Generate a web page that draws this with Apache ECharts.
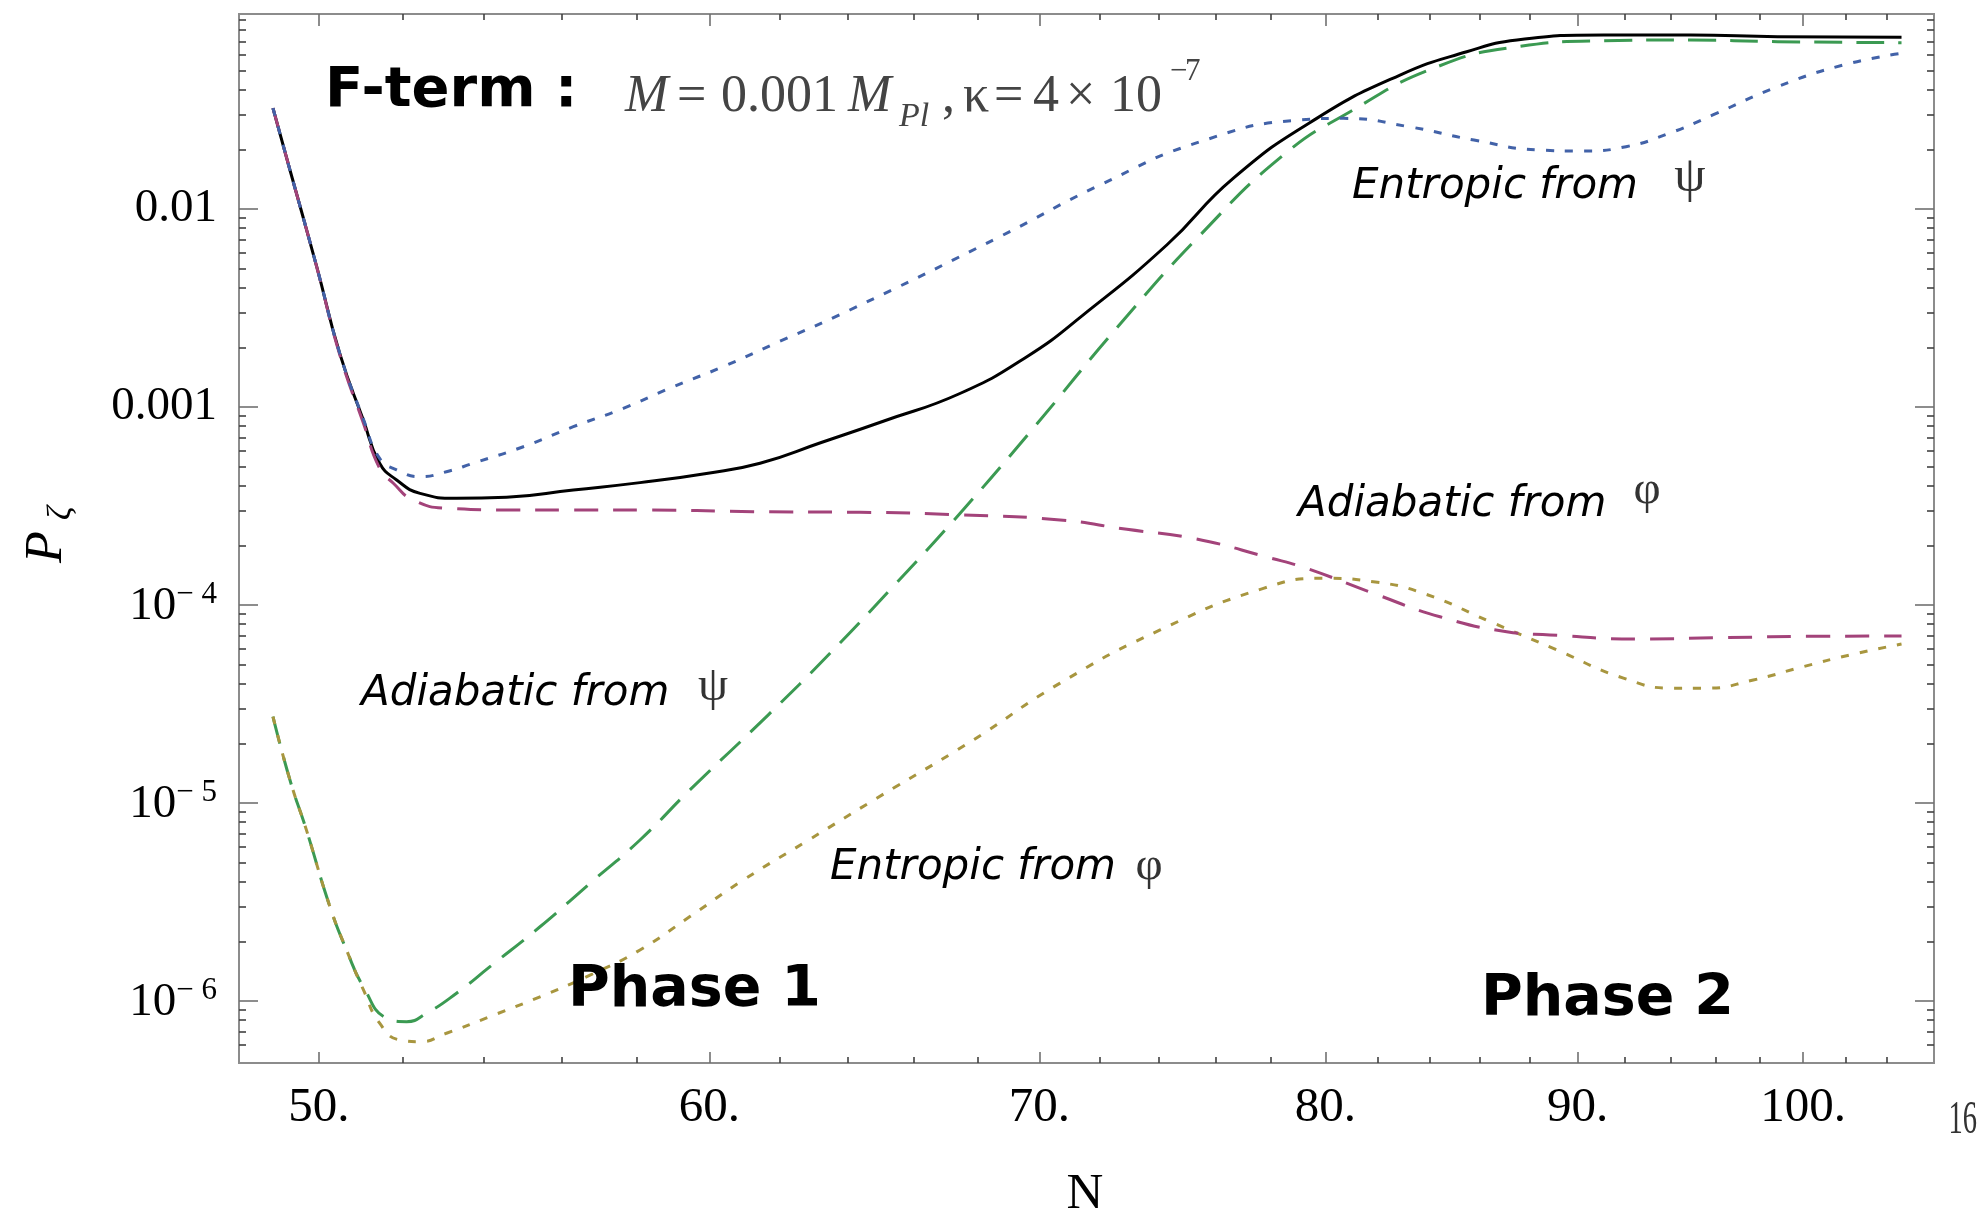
<!DOCTYPE html>
<html><head><meta charset="utf-8">
<script src="https://cdn.jsdelivr.net/npm/echarts@6/dist/echarts.min.js"></script>
<style>html,body{margin:0;padding:0;background:#fff}#c{width:1981px;height:1214px}</style>
</head><body><div id="c"></div>
<script>
// ---- data ----
const totalN = [48.94,49.33,49.95,50.49,51.05,51.44,51.85,52.42,53.32,54.58,56.31,58.09,59.92,61.44,63.2,65.1,67.45,69.58,71.45,74.29,76.63,79.68,82.84,85.46,87.49,91.11,94.88,98.81,104.7];
const totalP = [0.0323,0.01574,0.00512,0.001866,8.59e-4,5.20e-4,4.28e-4,3.66e-4,3.46e-4,3.50e-4,3.81e-4,4.15e-4,4.62e-4,5.2e-4,6.6e-4,8.5e-4,1.17e-3,1.79e-3,2.92e-3,6.58e-3,0.01429,0.0287,0.0475,0.0623,0.0714,0.0757,0.0757,0.0742,0.0737];

const entPsiN = [48.94,49.33,49.95,50.49,51.05,51.44,51.85,52.42,53.07,53.74,55.01,56.31,57.64,59.00,60.39,61.82,64.07,68.72,72.01,75.46,79.06,80.68,83.18,85.75,88.40,90.21,92.06,93.94,95.87,98.81,101.9,104.7];
const entPsiP = [0.0323,0.01574,0.00512,0.00187,8.7e-4,5.5e-4,4.81e-4,4.45e-4,4.71e-4,5.20e-4,6.30e-4,7.95e-4,9.85e-4,1.266e-3,1.598e-3,2.075e-3,3.09e-3,7.25e-3,0.01322,0.02188,0.02815,0.0287,0.02604,0.02231,0.01986,0.01963,0.02065,0.02412,0.02985,0.04147,0.0534,0.0611];

const adPhiN = [48.94,49.33,49.95,50.49,51.05,51.44,51.77,52.25,53.07,54.58,56.31,58.09,61.25,64.37,67.45,70.68,72.92,75.22,77.96,79.31,81.81,84.40,87.07,88.85,92.52,96.34,100.64,104.7];
const adPhiP = [0.0323,0.01574,0.0051,0.00184,8.3e-4,4.9e-4,4.12e-4,3.39e-4,3.08e-4,3.02e-4,3.02e-4,3.02e-4,2.96e-4,2.94e-4,2.85e-4,2.69e-4,2.41e-4,2.17e-4,1.73e-4,1.53e-4,1.146e-4,8.72e-5,7.33e-5,7.06e-5,6.73e-5,6.84e-5,6.95e-5,6.97e-5];

const adPsiN = [48.94,49.33,49.71,50.26,50.65,51.05,51.61,52.09,52.58,53.32,54.16,55.44,56.75,58.09,59.46,61.67,63.48,65.28,67.45,69.80,72.57,75.46,78.45,80.93,84.14,87.49,91.11,94.88,98.81,104.7];
const adPsiP = [2.73e-5,1.306e-5,7.31e-6,2.99e-6,1.81e-6,1.18e-6,8.18e-7,7.86e-7,8.67e-7,1.094e-6,1.49e-6,2.37e-6,3.93e-6,6.50e-6,1.164e-5,2.78e-5,5.70e-5,1.19e-4,2.90e-4,7.81e-4,2.50e-3,7.39e-3,0.01874,0.031,0.0514,0.066,0.0708,0.0714,0.070,0.0692];

const entPhiN = [48.94,49.33,49.71,50.26,50.65,51.05,51.44,51.93,52.42,53.07,54.16,55.44,56.75,58.09,59.46,60.96,62.85,64.88,67.87,70.68,74.06,77.72,79.92,81.81,83.74,86.40,89.13,91.95,94.12,95.60,97.70,100.0,102.2,104.7];
const entPhiP = [2.73e-5,1.306e-5,7.31e-6,2.99e-6,1.81e-6,1.14e-6,7.72e-7,6.35e-7,6.23e-7,6.87e-7,8.34e-7,1.05e-6,1.35e-6,1.81e-6,2.67e-6,4.08e-6,6.5e-6,1.057e-5,2.08e-5,4.03e-5,7.48e-5,1.213e-4,1.364e-4,1.311e-4,1.146e-4,8.24e-5,5.93e-5,4.27e-5,3.80e-5,3.80e-5,4.18e-5,4.88e-5,5.59e-5,6.35e-5];

// ---- axes ----
const X_MIN = 48.17, X_MAX = 106.3;
const Y_MIN = 4.86e-7, Y_MAX = 0.0966;
const xTickValues = [50,60,70,80,90,100];
const xTickLabels = ['50.','60.','70.','80.','90.','100.'];
const xMinorValues = [52,54,56,58,62,64,66,68,72,74,76,78,82,84,86,88,92,94,96,98,102,104];
const yTickValues = [1e-6,1e-5,1e-4,1e-3,1e-2];
const yTickLabels = ['{b|10}{s|− 6}','{b|10}{s|− 5}','{b|10}{s|− 4}','{b|0.001}','{b|0.01}'];
const yMinorValues = [
  6e-7,7e-7,8e-7,9e-7,
  2e-6,3e-6,4e-6,5e-6,6e-6,7e-6,8e-6,9e-6,
  2e-5,3e-5,4e-5,5e-5,6e-5,7e-5,8e-5,9e-5,
  2e-4,3e-4,4e-4,5e-4,6e-4,7e-4,8e-4,9e-4,
  2e-3,3e-3,4e-3,5e-3,6e-3,7e-3,8e-3,9e-3,
  2e-2,3e-2,4e-2,5e-2,6e-2,7e-2,8e-2,9e-2];

function pick(values, labels, v) {
  for (let i = 0; i < values.length; i++) {
    if (Math.abs(Math.log(values[i]) - Math.log(v)) < 1e-3) return labels[i];
  }
  return '';
}
const MAJ = {color:'#707070', width:1.6};
const MIN = {color:'#404040', width:1.6};

function xAx(pos, vals, len, style, withLabels) {
  return {
    type:'log', logBase:10, position:pos, min:X_MIN, max:X_MAX,
    axisLine:{show:false}, splitLine:{show:false}, minorTick:{show:false}, minorSplitLine:{show:false},
    axisTick:{show:true, inside:true, length:len, customValues:vals, lineStyle:style},
    axisLabel: withLabels ? {
      show:true, customValues:xTickValues, margin:21,
      formatter:(v)=>pick(xTickValues, xTickLabels, v),
      fontFamily:'Liberation Serif', fontSize:49, color:'#000'
    } : {show:false}
  };
}
function yAx(pos, vals, len, style, withLabels) {
  return {
    type:'log', logBase:10, position:pos, min:Y_MIN, max:Y_MAX,
    axisLine:{show:false}, splitLine:{show:false}, minorTick:{show:false}, minorSplitLine:{show:false},
    axisTick:{show:true, inside:true, length:len, customValues:vals, lineStyle:style},
    axisLabel: withLabels ? {
      show:true, customValues:yTickValues, margin:22,
      formatter:(v)=>pick(yTickValues, yTickLabels, v),
      fontFamily:'Liberation Serif', color:'#000',
      rich:{
        b:{fontFamily:'Liberation Serif', fontSize:47, color:'#000', verticalAlign:'bottom'},
        s:{fontFamily:'Liberation Serif', fontSize:31, color:'#000', verticalAlign:'bottom', padding:[0,0,20,0]}
      }
    } : {show:false}
  };
}

function zip(a, b) { return a.map((n, i) => [n, b[i]]); }
function line(name, N, P, color, width, dash, z) {
  return {
    type:'line', name, xAxisIndex:0, yAxisIndex:0, data:zip(N, P),
    smooth:0.5, showSymbol:false, symbol:'none', z,
    lineStyle:{color, width, type:dash, cap:'butt', join:'round'}, emphasis:{disabled:true}
  };
}

// ---- text helpers ----
function T(text, x, y, font, fill, align, rot, sx) {
  const el = {type:'text', x, y, z:100, silent:true,
    style:{text, font, fill: fill || '#000', textAlign: align || 'left', textVerticalAlign:'middle', verticalAlign:'middle'}};
  if (rot) el.rotation = rot;
  if (sx) el.scaleX = sx;
  return el;
}
const SERIF = '"Liberation Serif"';
const SANS = '"DejaVu Sans"';
const MATHC = '#444';
const graphics = [
  T('F-term :', 325, 91, 'bold 56px ' + SANS, '#000'),
  // M = 0.001 M_Pl , κ = 4×10^-7
  T('M', 625, 97, 'italic 52px ' + SERIF, MATHC),
  T('=', 677, 97, '52px ' + SERIF, MATHC),
  T('0.001', 721, 97, '52px ' + SERIF, MATHC),
  T('M', 848, 97, 'italic 52px ' + SERIF, MATHC),
  T('Pl', 899, 117, 'italic 34px ' + SERIF, MATHC),
  T(',', 942, 97, '52px ' + SERIF, MATHC),
  T('κ', 963, 97, '52px ' + SERIF, MATHC),
  T('=', 994, 97, '52px ' + SERIF, MATHC),
  T('4', 1033, 97, '52px ' + SERIF, MATHC),
  T('×', 1066, 97, '52px ' + SERIF, MATHC),
  T('10', 1110, 97, '52px ' + SERIF, MATHC),
  T('−', 1170, 72, '31px ' + SERIF, MATHC),
  T('7', 1185, 72, '31px ' + SERIF, MATHC),
  // curve labels
  T('Entropic from', 1352, 187, 'italic 42px ' + SANS, '#000'),
  T('ψ', 1690, 178, '50px ' + SERIF, '#333', 'center'),
  T('Adiabatic from', 1298, 505, 'italic 42px ' + SANS, '#000'),
  T('φ', 1647, 491, '47px ' + SERIF, '#333', 'center'),
  T('Adiabatic from', 361, 694, 'italic 42px ' + SANS, '#000'),
  T('ψ', 713, 687, '48px ' + SERIF, '#333', 'center'),
  T('Entropic from', 830, 868, 'italic 42px ' + SANS, '#000'),
  T('φ', 1149, 867, '47px ' + SERIF, '#333', 'center'),
  T('Phase 1', 568, 991, 'bold 57px ' + SANS, '#000'),
  T('Phase 2', 1481, 1000, 'bold 57px ' + SANS, '#000'),
  // axis names
  T('N', 1085, 1195, '51px ' + SERIF, '#000', 'center'),
  T('P', 47, 547, 'italic 52px ' + SERIF, '#000', 'center', Math.PI / 2),
  T('ζ', 61, 513, 'italic 34px ' + SERIF, '#000', 'center', Math.PI / 2),
  T('16', 1977, 1121, '46px ' + SERIF, '#333', 'right', 0, 0.62)
];

const chart = echarts.init(document.getElementById('c'), null, {renderer:'canvas'});
chart.setOption({
  animation:false,
  backgroundColor:'#fff',
  grid:{left:239, right:47, top:14, bottom:151, show:true, borderColor:'#8c8c8c', borderWidth:2, backgroundColor:'rgba(0,0,0,0)', containLabel:false, outerBoundsMode:'none'},
  xAxis:[
    xAx('bottom', xTickValues, 11, MAJ, true),
    xAx('bottom', xMinorValues, 6, MIN, false),
    xAx('top', xTickValues, 12, MAJ, false),
    xAx('top', xMinorValues, 6, MIN, false)
  ],
  yAxis:[
    yAx('left', yTickValues, 19, MAJ, true),
    yAx('left', yMinorValues, 7, MIN, false),
    yAx('right', yTickValues, 19, MAJ, false),
    yAx('right', yMinorValues, 7, MIN, false)
  ],
  series:[
    line('Total', totalN, totalP, '#000000', 3, 'solid', 2),
    line('Adiabatic from ψ', adPsiN, adPsiP, '#3b9a52', 3, [28,14], 3),
    line('Entropic from φ', entPhiN, entPhiP, '#a8963f', 3, [8,11], 4),
    line('Adiabatic from φ', adPhiN, adPhiP, '#a3437a', 3, [24,15], 5),
    line('Entropic from ψ', entPsiN, entPsiP, '#4262a8', 3, [8,11], 6)
  ],
  graphic: graphics
});
</script>
</body></html>
